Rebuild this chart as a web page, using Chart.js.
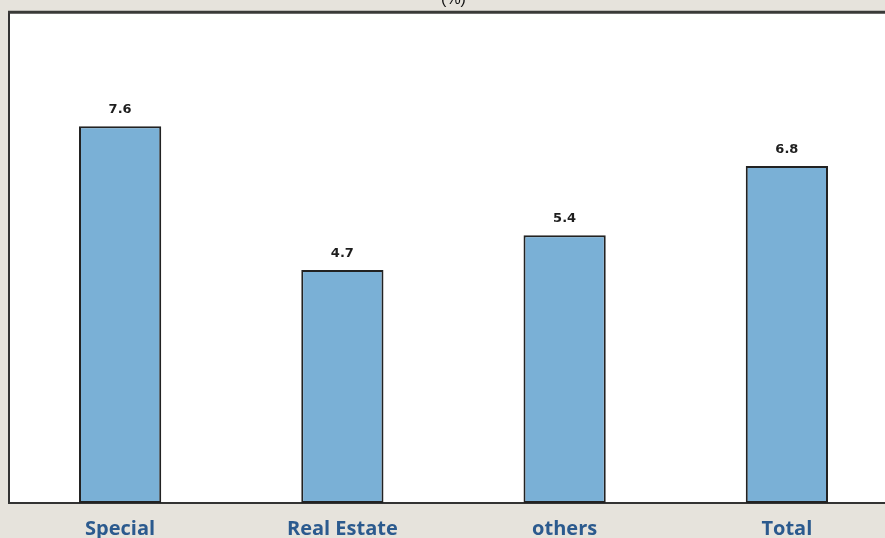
<!DOCTYPE html>
<html>
<head>
<meta charset="utf-8">
<script src="https://cdn.jsdelivr.net/npm/chart.js@4/dist/chart.umd.min.js"></script>
<style>
    html, body { margin: 0; padding: 0; background: #e6e3dc; }
    #khung { position: relative; width: 885px; height: 538px; overflow: hidden; }
    #khung canvas { position: absolute; left: 0; top: -14px; }
</style>
</head>
<body>
<div id="khung">
    <canvas id="myChart" width="900" height="552"></canvas>
</div>
<script>
var nhanDanhMuc = ["Special", "Real Estate", "others", "Total"];
var giaTri = [7.6, 4.7, 5.4, 6.8];
var truc = [0, 9.9];

// nen trang cho vung ve va vien tren
var nenVung = {
    id: 'nenVung',
    beforeDraw: function (chart) {
        var c = chart.ctx, a = chart.chartArea;
        c.save();
        c.fillStyle = '#e6e3dc';
        c.fillRect(0, 0, chart.width, chart.height);
        c.fillStyle = '#ffffff';
        c.fillRect(a.left, a.top, a.right - a.left, a.bottom - a.top);
        c.restore();
    },
    afterDraw: function (chart) {
        var c = chart.ctx, a = chart.chartArea;
        c.save();
        c.strokeStyle = '#3a3a38';
        c.lineWidth = 3;
        c.beginPath();
        c.moveTo(a.left - 1, a.top);
        c.lineTo(chart.width, a.top);
        c.stroke();
        c.restore();
    }
};

// so lieu tren dau moi cot
var nhanCot = {
    id: 'nhanCot',
    afterDatasetsDraw: function (chart) {
        var c = chart.ctx;
        var meta = chart.getDatasetMeta(0);
        c.save();
        c.font = 'bold 13px "DejaVu Sans"';
        c.fillStyle = '#1e1e1e';
        c.textAlign = 'center';
        c.textBaseline = 'bottom';
        meta.data.forEach(function (bar, i) {
            c.fillText(giaTri[i].toFixed(1), bar.x, bar.y - 10);
        });
        c.restore();
    }
};

new Chart("myChart", {
    type: "bar",
    data: {
        labels: nhanDanhMuc,
        datasets: [{
            data: giaTri,
            backgroundColor: '#7ab0d6',
            borderColor: '#222222',
            borderWidth: 2,
            borderSkipped: false,
            categoryPercentage: 1,
            barPercentage: 0.37
        }]
    },
    options: {
        responsive: false,
        animation: false,
        layout: { padding: { left: 9, right: 2, top: 0, bottom: 0 } },
        plugins: {
            legend: { display: false },
            tooltip: { enabled: false },
            title: {
                display: true,
                text: "(%)",
                color: '#111111',
                font: { family: 'Liberation Sans', size: 16, weight: 'normal' },
                padding: { top: 4, bottom: 3 }
            }
        },
        scales: {
            x: {
                grid: { display: false, drawTicks: false },
                border: { display: true, color: '#333333', width: 2 },
                ticks: {
                    color: '#2b5a8e',
                    padding: 14,
                    font: { family: 'Open Sans', size: 20, weight: 'bold' }
                },
                afterFit: function (scale) { scale.height = 35; }
            },
            y: {
                min: truc[0],
                max: truc[1],
                grid: { display: false, drawTicks: false },
                border: { display: true, color: '#333333', width: 2 },
                ticks: { display: false },
                afterFit: function (scale) { scale.width = 0; }
            }
        }
    },
    plugins: [nenVung, nhanCot]
});
</script>
</body>
</html>
